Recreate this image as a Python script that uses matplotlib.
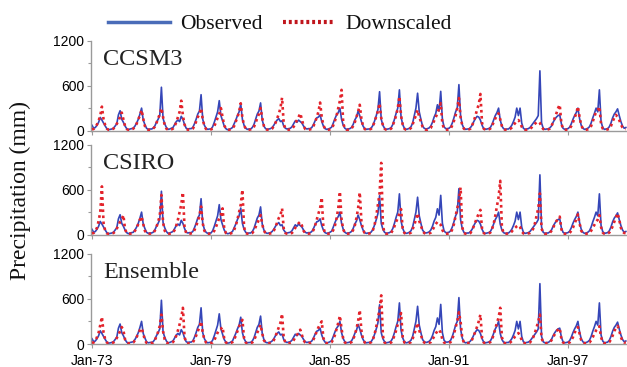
import matplotlib
matplotlib.use("Agg")
import matplotlib.pyplot as plt
from matplotlib.lines import Line2D
import numpy as np

# ---------------- data (monthly precipitation, mm), Jan-1973 .. Dec-1999 ----------------
observed = [
    70, 30, 40, 70, 110, 175, 140, 100, 60, 25, 10, 15,      # 1973
    20, 30, 60, 90, 210, 265, 150, 110, 60, 25, 10, 20,      # 1974
    25, 30, 60, 100, 150, 220, 300, 140, 80, 30, 15, 20,     # 1975
    20, 30, 60, 110, 150, 200, 580, 160, 90, 40, 15, 20,     # 1976
    30, 40, 80, 120, 140, 120, 190, 150, 80, 30, 20, 25,     # 1977
    25, 40, 90, 150, 220, 260, 480, 150, 70, 30, 15, 20,     # 1978
    20, 50, 110, 180, 250, 400, 200, 130, 60, 25, 10, 15,    # 1979
    25, 40, 90, 140, 200, 250, 355, 150, 70, 30, 15, 20,     # 1980
    20, 40, 80, 150, 220, 260, 370, 140, 60, 25, 15, 20,     # 1981
    25, 40, 70, 110, 140, 160, 120, 130, 60, 30, 20, 25,     # 1982
    30, 50, 90, 130, 110, 140, 120, 100, 60, 30, 20, 25,     # 1983
    25, 40, 80, 130, 170, 180, 210, 120, 60, 25, 15, 20,     # 1984
    30, 45, 100, 160, 210, 240, 300, 150, 70, 30, 15, 20,    # 1985
    25, 40, 80, 140, 180, 260, 200, 120, 60, 25, 15, 20,     # 1986
    20, 35, 70, 130, 200, 280, 520, 150, 70, 30, 15, 20,     # 1987
    25, 40, 80, 150, 230, 300, 545, 180, 80, 30, 15, 20,     # 1988
    30, 50, 100, 200, 300, 500, 250, 150, 60, 30, 20, 25,    # 1989
    35, 60, 110, 180, 230, 345, 260, 525, 150, 50, 25, 25,   # 1990
    30, 50, 100, 170, 250, 300, 615, 200, 80, 30, 15, 20,    # 1991
    20, 40, 70, 120, 160, 190, 180, 140, 70, 25, 15, 20,     # 1992
    25, 40, 80, 140, 200, 240, 300, 140, 60, 25, 15, 20,     # 1993
    20, 40, 70, 120, 180, 300, 200, 300, 100, 30, 15, 20,    # 1994
    25, 40, 70, 100, 130, 160, 200, 800, 100, 30, 15, 20,    # 1995
    20, 35, 60, 110, 150, 180, 200, 210, 90, 30, 15, 20,     # 1996
    25, 45, 90, 150, 200, 240, 300, 160, 70, 30, 15, 20,     # 1997
    30, 50, 100, 170, 230, 300, 250, 545, 120, 40, 15, 20,   # 1998
    25, 50, 100, 170, 220, 250, 290, 200, 120, 60, 30, 40,   # 1999
]

ccsm3 = [
    15, 20, 40, 80, 130, 200, 320, 150, 70, 25, 10, 10,
    15, 25, 50, 90, 130, 180, 240, 150, 60, 20, 10, 15,
    15, 25, 50, 90, 150, 200, 275, 160, 60, 20, 10, 10,
    15, 25, 50, 100, 160, 220, 300, 180, 70, 25, 10, 10,
    15, 25, 60, 110, 180, 250, 400, 200, 80, 25, 10, 10,
    15, 25, 60, 120, 180, 220, 300, 150, 60, 20, 10, 10,
    15, 25, 60, 110, 170, 220, 300, 180, 70, 25, 10, 10,
    15, 25, 60, 120, 180, 250, 365, 170, 70, 25, 10, 10,
    15, 25, 50, 100, 170, 220, 300, 170, 60, 20, 10, 10,
    15, 25, 60, 100, 160, 220, 300, 440, 90, 25, 10, 10,
    15, 25, 50, 90, 140, 180, 230, 150, 60, 20, 10, 10,
    15, 25, 60, 110, 180, 250, 375, 180, 70, 25, 10, 10,
    15, 25, 70, 130, 200, 300, 400, 545, 100, 25, 10, 10,
    15, 25, 60, 110, 180, 250, 345, 160, 60, 20, 10, 10,
    15, 25, 60, 120, 190, 260, 365, 170, 70, 25, 10, 10,
    15, 25, 70, 130, 200, 300, 455, 200, 80, 25, 10, 10,
    15, 35, 80, 150, 200, 275, 180, 120, 50, 20, 10, 10,
    20, 35, 80, 130, 180, 230, 300, 365, 90, 25, 10, 10,
    15, 25, 70, 130, 200, 300, 435, 180, 70, 25, 10, 10,
    15, 25, 70, 120, 200, 280, 350, 490, 100, 25, 10, 10,
    15, 25, 60, 110, 160, 200, 230, 150, 60, 20, 10, 10,
    15, 20, 40, 70, 100, 130, 140, 110, 50, 20, 10, 10,
    15, 20, 40, 70, 90, 110, 120, 100, 50, 20, 10, 10,
    15, 25, 60, 110, 170, 230, 300, 345, 90, 25, 10, 10,
    15, 25, 60, 110, 170, 230, 320, 180, 70, 25, 10, 10,
    15, 25, 60, 120, 190, 250, 270, 320, 90, 25, 10, 10,
    15, 25, 60, 120, 170, 210, 180, 140, 80, 40, 20, 20,
]

csiro = [
    15, 20, 40, 90, 180, 300, 645, 150, 50, 15, 10, 10,
    15, 20, 40, 80, 120, 170, 200, 260, 70, 20, 10, 10,
    15, 20, 50, 90, 140, 200, 240, 140, 50, 15, 10, 10,
    15, 20, 50, 100, 170, 250, 530, 160, 50, 20, 10, 10,
    15, 25, 60, 120, 200, 300, 400, 565, 90, 20, 10, 10,
    15, 20, 60, 110, 180, 250, 375, 150, 50, 20, 10, 10,
    15, 20, 50, 100, 160, 220, 260, 350, 80, 20, 10, 10,
    15, 25, 60, 120, 200, 300, 400, 600, 100, 20, 10, 10,
    15, 20, 50, 100, 150, 200, 260, 140, 50, 20, 10, 10,
    15, 20, 50, 100, 160, 220, 260, 350, 80, 20, 10, 10,
    15, 20, 50, 90, 120, 150, 170, 120, 50, 20, 10, 10,
    15, 25, 60, 120, 200, 280, 350, 495, 90, 20, 10, 10,
    15, 25, 60, 120, 220, 350, 575, 200, 70, 20, 10, 10,
    15, 25, 60, 120, 220, 350, 565, 180, 60, 20, 10, 10,
    15, 25, 60, 130, 250, 400, 550, 960, 120, 20, 10, 10,
    15, 20, 60, 110, 170, 220, 280, 340, 80, 20, 10, 10,
    15, 25, 70, 130, 200, 285, 180, 120, 50, 20, 10, 10,
    15, 25, 60, 100, 140, 170, 150, 130, 60, 20, 10, 10,
    15, 25, 70, 140, 250, 350, 450, 630, 100, 20, 10, 10,
    15, 20, 60, 110, 170, 230, 280, 330, 80, 20, 10, 10,
    15, 25, 70, 140, 250, 380, 500, 720, 100, 20, 10, 10,
    15, 20, 40, 70, 90, 110, 125, 100, 40, 15, 10, 10,
    15, 20, 40, 80, 150, 250, 350, 550, 80, 20, 10, 10,
    15, 20, 50, 90, 140, 180, 210, 240, 70, 20, 10, 10,
    15, 20, 50, 90, 150, 200, 270, 150, 50, 20, 10, 10,
    15, 20, 50, 90, 130, 170, 200, 260, 100, 25, 10, 10,
    15, 25, 60, 110, 170, 230, 285, 200, 90, 40, 20, 20,
]

ensemble = [
    15, 20, 40, 90, 150, 250, 360, 150, 60, 20, 10, 10,
    15, 20, 40, 80, 120, 170, 225, 180, 60, 20, 10, 10,
    15, 20, 50, 90, 140, 180, 210, 140, 50, 15, 10, 10,
    15, 20, 50, 100, 160, 240, 390, 170, 60, 20, 10, 10,
    15, 25, 60, 110, 180, 260, 350, 480, 90, 20, 10, 10,
    15, 20, 60, 110, 170, 220, 300, 150, 60, 20, 10, 10,
    15, 20, 50, 100, 150, 190, 200, 225, 70, 20, 10, 10,
    15, 25, 60, 110, 170, 230, 280, 320, 80, 20, 10, 10,
    15, 20, 50, 100, 150, 200, 255, 140, 50, 20, 10, 10,
    15, 20, 50, 100, 160, 220, 280, 400, 80, 20, 10, 10,
    15, 20, 50, 90, 120, 150, 190, 120, 50, 20, 10, 10,
    15, 25, 60, 110, 170, 220, 260, 300, 80, 20, 10, 10,
    15, 25, 60, 120, 200, 280, 375, 200, 70, 20, 10, 10,
    15, 25, 60, 120, 200, 300, 450, 180, 60, 20, 10, 10,
    15, 25, 60, 130, 230, 350, 450, 645, 110, 20, 10, 10,
    15, 20, 60, 110, 180, 260, 340, 410, 90, 20, 10, 10,
    15, 25, 70, 130, 200, 280, 180, 120, 50, 20, 10, 10,
    15, 25, 60, 100, 140, 170, 190, 150, 60, 20, 10, 10,
    15, 25, 70, 130, 220, 300, 420, 300, 80, 20, 10, 10,
    15, 20, 60, 110, 170, 230, 300, 390, 80, 20, 10, 10,
    15, 25, 60, 120, 200, 280, 350, 480, 90, 20, 10, 10,
    15, 20, 40, 70, 100, 120, 145, 110, 50, 15, 10, 10,
    15, 20, 50, 90, 150, 220, 300, 390, 80, 20, 10, 10,
    15, 20, 50, 90, 130, 170, 190, 210, 70, 20, 10, 10,
    15, 20, 50, 90, 150, 190, 225, 140, 50, 20, 10, 10,
    15, 20, 50, 90, 140, 180, 200, 235, 90, 25, 10, 10,
    15, 25, 60, 110, 170, 210, 240, 180, 90, 40, 20, 20,
]

panel_names = ["CCSM3", "CSIRO", "Ensemble"]
tick_labels = ["Jan-73", "Jan-79", "Jan-85", "Jan-91", "Jan-97"]
y_ticks = [0, 600, 1200]

# ---------------- figure ----------------
W, H = 627, 367
fig = plt.figure(figsize=(W / 100, H / 100), dpi=100)
SERIF = ["Liberation Serif", "DejaVu Serif"]
SANS = ["Liberation Sans", "DejaVu Sans"]

BLUE = "#3546b8"
RED = "#e3232b"
GRAY = "#9a9a9a"

months = np.arange(len(observed))
downs = [ccsm3, csiro, ensemble]

# axes in pixel coords: (left, top_px_of_1200, bottom_px_of_0)
panels_px = [(91, 41, 130.5), (91, 145, 234.5), (91, 253.5, 344)]

for i, (name, ds) in enumerate(zip(panel_names, downs)):
    left, top, bot = panels_px[i]
    ax = fig.add_axes([left / W, (H - bot) / H, (W - left) / W, (bot - top) / H])
    ax.plot(months, observed, color=BLUE, lw=1.2, zorder=2, solid_joinstyle="round")
    ax.plot(months, ds, color=RED, lw=1.9, linestyle=(0, (1.0, 1.3)), zorder=3)
    ax.set_xlim(-0.6, 323.7)
    ax.set_ylim(0, 1200)
    ax.set_yticks(y_ticks)
    ax.set_yticks([300, 900], minor=True)
    ax.set_xticks([0, 72, 144, 216, 288])
    if i == 2:
        ax.set_xticklabels(tick_labels, fontfamily=SANS, fontsize=10)
    else:
        ax.set_xticklabels([])
    ax.set_yticklabels([str(v) for v in y_ticks], fontfamily=SANS, fontsize=10)
    for s in ("top", "right"):
        ax.spines[s].set_visible(False)
    for s in ("left", "bottom"):
        ax.spines[s].set_color(GRAY)
        ax.spines[s].set_linewidth(1.0)
    ax.tick_params(axis="both", which="both", color=GRAY, direction="out",
                   length=3, width=0.8, pad=2)
    ax.tick_params(axis="x", pad=4)
    ax.tick_params(axis="y", which="minor", length=2)
    ax.patch.set_alpha(0)
    ax.text(0.022, 0.73, name, transform=ax.transAxes, fontfamily=SERIF,
            fontsize=17.5, color="#222222", va="baseline", ha="left")

# y label
fig.text(20 / W, (H - 190) / H, "Precipitation (mm)", rotation=90, fontfamily=SERIF,
         fontsize=17, ha="center", va="center", color="#111111")

# legend (drawn manually)
ly = (H - 21.5) / H
fig.add_artist(Line2D([108 / W, 170 / W], [ly, ly], color="#4a6cb8", lw=2.5,
                      transform=fig.transFigure))
fig.text(180 / W, (H - 29) / H, "Observed", fontfamily=SERIF, fontsize=15.5,
         ha="left", va="baseline", color="#111111")
fig.add_artist(Line2D([283 / W, 333 / W], [ly, ly], color="#c0151c", lw=3,
                      linestyle=(0, (0.7, 0.7)), transform=fig.transFigure))
fig.text(345 / W, (H - 29) / H, "Downscaled", fontfamily=SERIF, fontsize=15.5,
         ha="left", va="baseline", color="#111111")

fig.savefig("out.png", dpi=100)
